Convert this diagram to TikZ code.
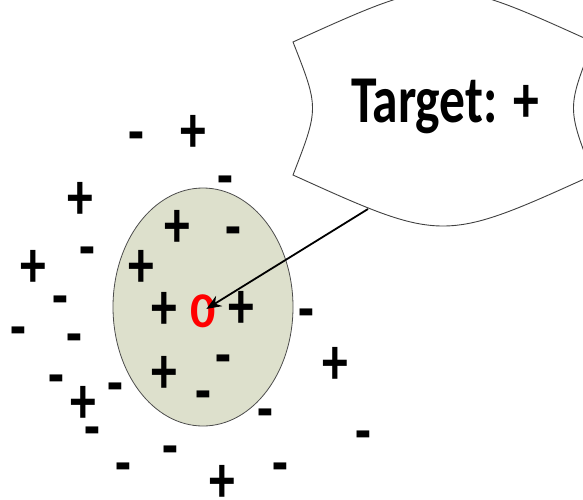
\documentclass[tikz,border=0pt]{standalone}
\usepackage{fontspec}
\newfontfamily\markfont{Carlito}[FakeStretch=0.77]
\usetikzlibrary{arrows.meta, shapes.geometric}

\definecolor{hoodfill}{RGB}{221,224,204}

\begin{document}
\begin{tikzpicture}[x=1pt,y=-1pt,>={Stealth[length=15pt,width=12pt]},
		sign/.style={font=\markfont\bfseries\fontsize{67}{67}\selectfont, inner sep=0pt, anchor=base},
		callout/.style={draw=black!75, line width=0.9pt, fill=white}]
		
		\useasboundingbox (0,0) rectangle (583,499);
		
		\node (hood) [draw=black!70, line width=0.8pt, fill=hoodfill, ellipse, minimum width=180pt, minimum height=238pt] at (203,307) {};
		
		% labelled examples around the query point (baseline sits 20pt under the sign)
		\foreach \x/\y [count=\i] in {193/132, 80/199, 177/227, 33/267, 141/267, 164/309, 241/308, 335/364, 164/373, 83/403, 222/482}
			\node (p\i) [sign] at (\x,{\y+20}) {+};
		\foreach \x/\y [count=\i] in {136/134, 225/178, 233/229, 87/249, 60/298, 306/311, 18/329, 74/336, 223/357, 56/377, 115/385, 203/393, 265/411, 92/429, 363/433, 170/448, 123/465, 280/465}
			\node (n\i) [sign] at (\x,{\y+20}) {-};
		
		\node (q) [font=\fontspec{Carlito}\bfseries\fontsize{50}{50}\selectfont, text=red, inner sep=0pt] at (203,311) {0};
		
		% speech box
		\draw [callout] (293,42) .. controls (443,-26) .. (593,42) .. controls (567,108) .. (593,175) .. controls (443,243) .. (293,175) .. controls (319,108) .. cycle;
		\node (target) [sign] at (445,122) {Target: +};
		
		\coordinate (tail) at (368,209);
		\path [->, line width=1.8pt]
		(tail) edge [shorten >=4pt] (q.center);
		
	\end{tikzpicture}
\end{document}
